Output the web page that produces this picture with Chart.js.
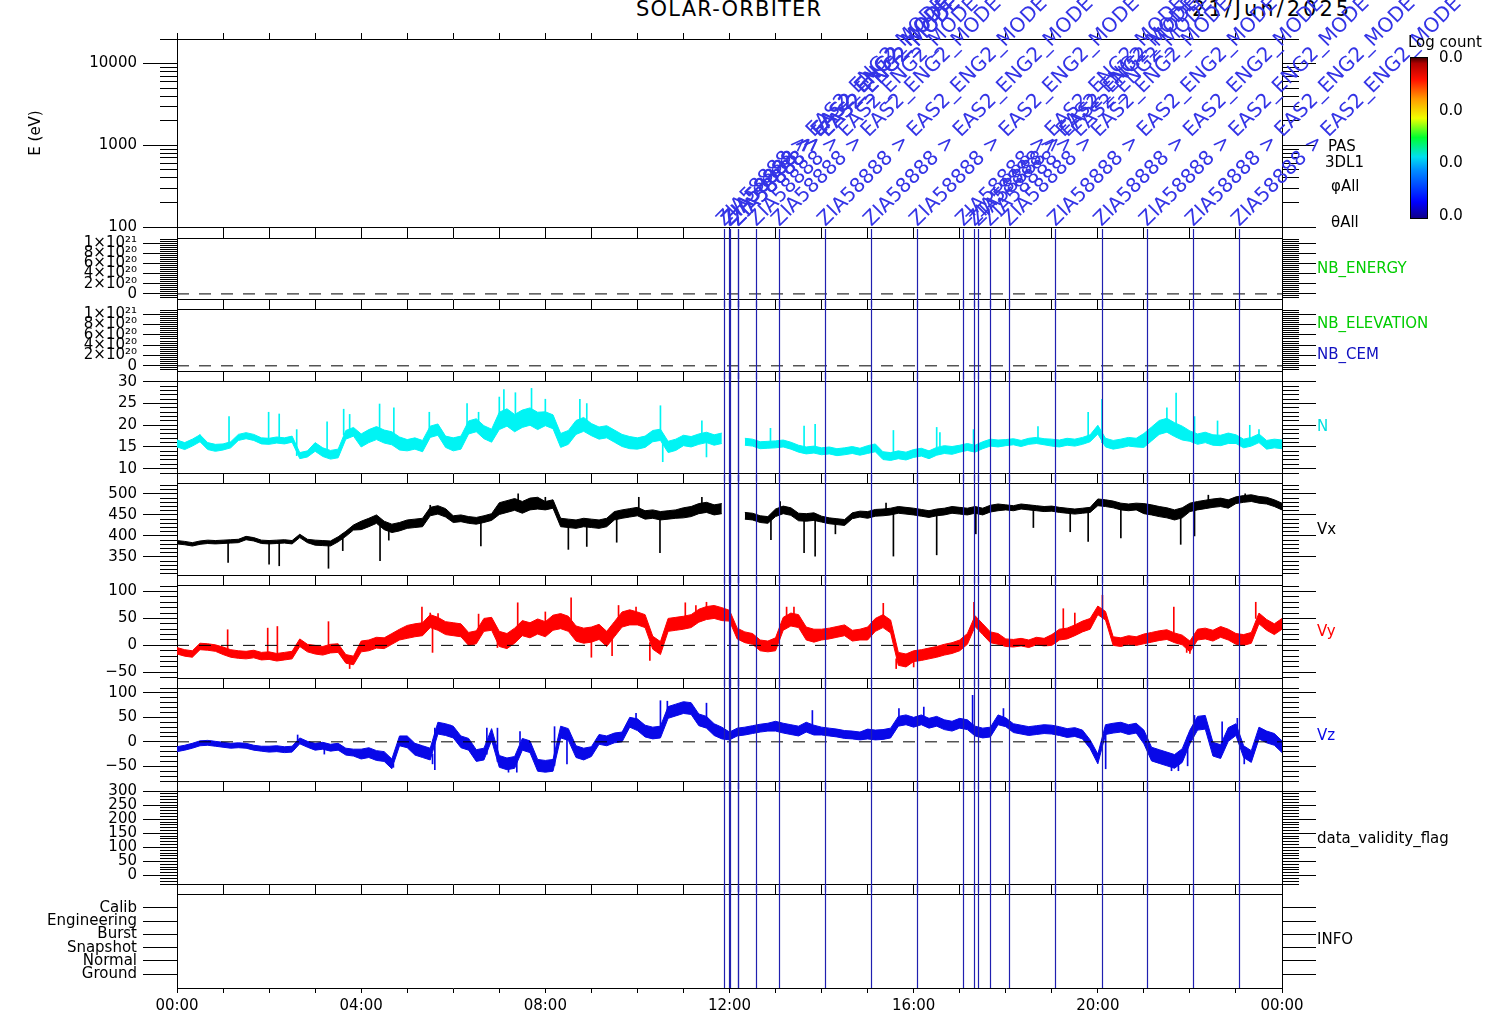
<!DOCTYPE html>
<html>
<head>
<meta charset="utf-8">
<script src="https://cdn.jsdelivr.net/npm/chart.js@4/dist/chart.umd.min.js"></script>
<style>
  body { margin: 0; background: #fff; }
  #page { position: relative; width: 1512px; height: 1020px; overflow: hidden; background: #fff; font-family: 'DejaVu Sans', sans-serif; }
  #page canvas { position: absolute; left: 0; }
  .ttl { position: absolute; top: -1px; font-size: 21px; line-height: 21px; color: #000; white-space: nowrap; }
</style>
</head>
<body>
<div id="page">
  <div class="ttl" style="left:636px; letter-spacing:1.2px">SOLAR-ORBITER</div>
  <div class="ttl" style="left:1192px; letter-spacing:3px">21/Jun/2025</div>
</div>
<script>
// ---- data (10 min samples, 00:00 .. 24:00) ----
const nVals = [
  15.8, 15.2, 16.0, 17.0, 15.2, 14.8,
  15.0, 15.5, 17.2, 17.6, 17.2, 16.4,
  16.3, 16.6, 16.4, 16.8, 13.0, 13.4,
  15.0, 13.8, 13.2, 13.5, 17.8, 18.5,
  16.5, 17.5, 18.2, 17.4, 17.0, 15.8,
  15.4, 15.8, 15.2, 18.5, 19.0, 16.2,
  15.6, 16.0, 19.5, 20.0, 18.4, 17.6,
  21.0, 21.8, 20.5, 21.5, 22.0, 21.0,
  21.5, 20.8, 16.5, 17.2, 19.5, 20.2,
  19.0, 18.2, 18.5, 17.5, 16.5, 16.0,
  15.8, 16.2, 17.5, 17.8, 15.0, 15.5,
  16.5, 16.2, 16.8, 17.2, 16.6, 17.0,
  null, null, 16.2, 16.0, 15.4, 15.5,
  15.6, 15.8, 15.3, 14.6, 14.2, 14.4,
  14.0, 14.2, 13.8, 14.0, 14.3, 13.9,
  14.4, 14.8, 13.0, 12.8, 13.2, 12.9,
  13.5, 13.8, 13.2, 14.0, 14.4, 14.2,
  14.6, 15.0, 14.6, 15.4, 16.0, 15.8,
  16.0, 16.2, 15.8, 16.3, 16.5, 16.2,
  16.0, 15.8, 16.2, 16.0, 16.4, 17.0,
  19.0, 16.0, 15.5, 15.8, 16.2, 16.0,
  16.5, 18.0, 19.5, 20.0, 19.0, 18.2,
  17.5, 16.8, 17.2, 16.6, 16.5, 17.0,
  16.8, 15.8, 16.2, 17.0, 15.5, 15.8,
  15.6
];
const vxVals = [
  385, 383, 380, 384, 386, 385,
  386, 387, 388, 395, 392, 386,
  385, 386, 387, 385, 400, 388,
  384, 383, 382, 392, 405, 420,
  425, 432, 440, 425, 418, 422,
  428, 430, 432, 458, 462, 455,
  440, 442, 438, 436, 440, 445,
  465, 470, 475, 468, 476, 478,
  472, 476, 432, 430, 428, 432,
  430, 428, 432, 448, 452, 455,
  458, 450, 452, 448, 450, 452,
  455, 458, 465, 468, 462, 465,
  null, null, 448, 446, 440, 438,
  455, 462, 458, 445, 444, 446,
  440, 436, 434, 432, 448, 452,
  450, 455, 456, 458, 462, 460,
  458, 455, 452, 456, 458, 462,
  460, 458, 462, 458, 465, 468,
  468, 466, 470, 468, 466, 464,
  465, 462, 460, 458, 460, 462,
  480, 478, 475, 470, 468, 470,
  465, 462, 458, 455, 450, 455,
  468, 472, 475, 478, 480, 476,
  485, 488, 490, 486, 484, 478,
  470
];
const vyVals = [
  -10, -14, -16, -2, -3, -5,
  -10, -15, -17, -18, -16, -20,
  -19, -22, -20, -18, 5, -5,
  -8, -10, -6, -5, -25, -28,
  -2, 0, 5, 4, 12, 20,
  25, 28, 30, 45, 40, 32,
  30, 28, 12, 15, 38, 40,
  12, 8, 18, 32, 28, 35,
  30, 42, 45, 40, 22, 18,
  20, 25, 12, 30, 48, 52,
  50, 45, 5, -5, 38, 40,
  42, 45, 55, 60, 62, 58,
  55, 22, 15, 12, 0, -2,
  2, 40, 48, 45, 22, 18,
  20, 22, 25, 28, 18, 20,
  22, 38, 45, 35, -25, -28,
  -20, -18, -15, -12, -8, -5,
  0, 12, 45, 30, 15, 12,
  5, 4, 6, 3, 8, 6,
  10, 20, 22, 28, 35, 40,
  65, 55, 8, 6, 10, 8,
  12, 15, 18, 20, 14, 10,
  -2, 20, 22, 18, 25, 20,
  12, 10, 14, 50, 38, 30,
  40
];
const vzVals = [
  -15, -12, -8, -3, -2, -4,
  -6, -8, -7, -8, -12, -14,
  -15, -14, -16, -15, 2, -5,
  -10, -8, -12, -10, -20, -22,
  -25, -22, -28, -30, -45, 2,
  0, -15, -20, -25, 28, 25,
  20, 0, -5, -28, -25, 15,
  -40, -45, -42, -5, -10, -48,
  -50, -48, 20, 15, -20, -25,
  -20, 5, 2, 8, 10, 40,
  35, 22, 18, 20, 60, 65,
  70, 68, 45, 40, 25, 18,
  12, 20, 22, 25, 28, 30,
  32, 28, 25, 22, 30, 24,
  22, 20, 18, 15, 14, 12,
  16, 14, 15, 18, 42, 45,
  40, 45, 38, 42, 35, 32,
  38, 35, 22, 18, 20, 45,
  40, 28, 25, 22, 24, 26,
  25, 22, 18, 20, 15, -5,
  -35, 25, 28, 30, 25, 28,
  10, -25, -30, -35, -40, -28,
  10, 38, 40, -15, -20, 15,
  25, -20, -30, 18, 10, 5,
  -10
];

// hourly half-width of the noisy band around each trace
const nSpread  = [0.8, 0.7, 0.7, 1.0, 1.5, 1.3, 1.5, 2.0, 1.6, 1.4, 1.3, 1.2, 0.8, 0.8, 0.8, 0.9, 0.9, 0.8, 0.7, 0.8, 1.0, 1.6, 1.2, 1.0];
const vxSpread = [4, 4, 4, 6, 10, 10, 8, 14, 10, 10, 10, 12, 8, 9, 7, 8, 8, 8, 6, 6, 8, 12, 10, 8];
const vySpread = [6, 7, 7, 8, 10, 12, 12, 14, 14, 14, 12, 12, 10, 12, 10, 12, 10, 10, 7, 10, 8, 9, 10, 10];
const vzSpread = [5, 5, 6, 7, 10, 12, 12, 12, 12, 10, 12, 12, 8, 10, 8, 10, 10, 10, 9, 9, 10, 14, 14, 12];

// single spikes [hour, value]
const nSpikes = [[0.5,17.8],[1.13,22.0],[1.99,23.0],[2.22,22.6],[2.6,19.0],[3.26,20.8],[3.62,23.7],[3.75,22.5],
  [4.4,24.9],[4.71,24.0],[5.48,23.0],[6.3,25.0],[6.55,23.0],[7.0,26.5],[7.1,28.2],[7.35,27.5],[7.7,28.5],[8.0,26.0],
  [8.75,26.0],[8.9,25.0],[10.5,24.5],[10.55,11.6],[11.4,21.0],[11.5,12.7],[12.89,19.3],[13.62,19.8],[13.86,20.2],
  [15.56,18.8],[16.5,19.5],[16.57,18.3],[17.3,19.0],[18.7,19.7],[19.79,23.0],[20.09,26.0],[21.5,24.0],[21.7,27.4],
  [22.1,22.0],[22.6,21.0],[23.3,20.0],[23.5,19.0]];
const vxSpikes = [[1.11,337],[2.0,333],[2.22,329],[3.29,323],[3.6,365],[4.41,341],[4.6,390],[5.5,473],[6.6,376],
  [7.41,500],[8.0,492],[8.5,368],[8.9,375],[9.55,385],[10.03,492],[10.49,360],[11.4,492],[12.9,391],[13.1,482],
  [13.62,360],[13.86,352],[14.3,405],[15.4,478],[15.56,352],[16.5,355],[17.35,405],[18.6,420],[19.4,410],
  [19.79,387],[20.5,395],[21.8,380],[22.1,400],[22.4,497],[23.2,500]];
const vySpikes = [[1.1,29],[1.97,32],[2.18,35],[3.29,44],[3.75,-43],[5.32,71],[5.5,60],[5.55,-13],[5.67,59],[6.55,58],
  [6.96,-4],[7.4,79],[8.0,62],[8.56,88],[9.0,-22],[9.45,-19],[9.59,74],[9.97,71],[10.27,-28],[11.04,79],[11.27,74],
  [11.5,80],[13.24,71],[13.4,71],[15.34,78],[15.62,-43],[16.0,-40],[16.12,-28],[17.31,80],[19.25,68],[19.5,60],
  [20.1,93],[21.65,71],[21.93,-13],[22.0,-15],[23.43,80]];
const vzSpikes = [[2.62,14],[3.2,-25],[4.7,-52],[5.55,-45],[5.6,-57],[5.75,34],[5.93,34],[6.73,28],[6.96,28],
  [7.2,-62],[7.38,-62],[7.45,21],[7.9,-55],[8.2,31],[8.47,-45],[9.97,58],[10.5,84],[10.65,83],[11.5,79],
  [13.8,64],[15.68,68],[16.22,71],[17.28,95],[17.95,68],[20.17,-55],[21.6,-59],[21.75,-59],[21.95,-49],
  [22.1,54],[22.7,41],[23.03,48],[23.18,-45]];

// mode change markers
const eventHours = [11.887, 11.996, 12.017, 12.178, 12.19, 12.582, 13.08, 14.08, 15.08, 16.08,
  17.08, 17.32, 17.40, 17.66, 18.08, 19.08, 20.08, 21.07, 22.07, 23.07];
const eventLabels = eventHours.map(() => 'ZIA58888 > EAS2_ENG2_MODE');

// axis ticks
const eMajor = [100, 1000, 10000];
const eMinor = [200, 300, 400, 500, 600, 700, 800, 900, 2000, 3000, 4000, 5000, 6000, 7000, 8000, 9000, 20000];
const nbMajor = [0, 2e20, 4e20, 6e20, 8e20, 1e21];
const nbLabels = ['0', '2×10²⁰', '4×10²⁰', '6×10²⁰', '8×10²⁰', '1×10²¹'];
const nMajor = [10, 15, 20, 25, 30];
const vxMajor = [350, 400, 450, 500];
const vyMajor = [-50, 0, 50, 100];
const vzMajor = [-50, 0, 50, 100];
const flagMajor = [0, 50, 100, 150, 200, 250, 300];
const infoModes = ['Ground', 'Normal', 'Snapshot', 'Burst', 'Engineering', 'Calib'];

// ---- helpers ----
Chart.defaults.font.family = "'DejaVu Sans', sans-serif";
Chart.defaults.font.size = 15;
Chart.defaults.color = '#000';

const W = 1512, LEFT = 177, RIGHT = 230;
const FONT = "15px 'DejaVu Sans', sans-serif";

function steps(a, b, st) {
  const out = [];
  for (let i = 0; a + i * st <= b + st * 1e-6; i++) out.push(+(a + i * st).toPrecision(10));
  return out;
}
const num = v => v < 0 ? '\u2212' + Math.abs(v) : String(v);
const hhmm = v => v % 4 === 0 ? String(v % 24).padStart(2, '0') + ':00' : '';

function pts(vals) { return vals.map((v, i) => ({ x: i / 6, y: v })); }
function spikeBars(sp, vals) {
  return sp.filter(s => vals[Math.round(s[0] * 6)] != null)
    .map(([h, v]) => ({ x: h, y: [vals[Math.round(h * 6)], v] }));
}
function shifted(vals, spread, sign) {
  return vals.map((v, i) => v == null ? null : v + sign * spread[Math.min(23, Math.floor(i / 6))]);
}
function series(vals, spread, sp, color) {
  const line = { type: 'line', borderColor: color, backgroundColor: color, borderWidth: 1, pointRadius: 0, tension: 0, spanGaps: false };
  return [
    { ...line, data: pts(shifted(vals, spread, 1)), fill: false },
    { ...line, data: pts(shifted(vals, spread, -1)), fill: '-1' },
    { type: 'bar', data: spikeBars(sp, vals), backgroundColor: color, borderWidth: 0, barThickness: 1, grouped: false }
  ];
}
const zeroLine = { type: 'line', data: [{ x: 0, y: 0 }, { x: 24, y: 0 }], borderColor: '#000', borderWidth: 1, borderDash: [12, 10], pointRadius: 0 };

function yAxes(p) {
  const base = { type: p.type || 'linear', min: p.min, max: p.max };
  const put = vals => s => { s.ticks = vals.map(v => ({ value: v })); };
  const fix = w => s => { s.width = w; };
  const grid = tl => ({ drawOnChartArea: false, drawTicks: true, tickLength: tl, color: '#000', lineWidth: 1 });
  return {
    yMinL: { ...base, position: 'left', weight: 0, afterBuildTicks: put(p.minor), afterFit: fix(0),
      ticks: { display: false }, grid: grid(17), border: { display: false } },
    y: { ...base, position: 'left', weight: 1, afterBuildTicks: put(p.major), afterFit: fix(LEFT),
      ticks: { autoSkip: false, padding: 6, color: '#000', callback: p.fmt },
      grid: grid(34), border: { display: true, color: '#000', width: 1 },
      title: p.title ? { display: true, text: p.title, padding: { top: 27 }, color: '#000' } : { display: false } },
    yMinR: { ...base, position: 'right', weight: 0, afterBuildTicks: put(p.minor), afterFit: fix(0),
      ticks: { display: false }, grid: grid(17), border: { display: false } },
    yR: { ...base, position: 'right', weight: 1, afterBuildTicks: put(p.major), afterFit: fix(RIGHT),
      ticks: { display: false }, grid: grid(34), border: { display: true, color: '#000', width: 1 } }
  };
}
function xAxes(labelH, topLen) {
  return {
    x: { type: 'linear', min: 0, max: 24, position: 'bottom', offset: false, afterFit: s => { s.height = labelH; },
      ticks: { stepSize: 1, autoSkip: false, maxRotation: 0, display: labelH > 0, padding: 4, callback: hhmm },
      grid: { drawOnChartArea: false, offset: false, tickLength: labelH > 0 ? 5 : 7, color: '#000' },
      border: { display: true, color: '#000', width: 1 } },
    xt: { type: 'linear', min: 0, max: 24, position: 'top', offset: false, afterFit: s => { s.height = 0; },
      ticks: { stepSize: 1, display: false },
      grid: { drawOnChartArea: false, offset: false, tickLength: topLen, color: '#000' },
      border: { display: true, color: '#000', width: 1 } }
  };
}

// ---- plugins ----
const eventLines = {
  id: 'eventLines',
  afterDatasetsDraw(chart, args, o) {
    if (!o || !o.on) return;
    const { ctx, chartArea } = chart, xs = chart.scales.x;
    ctx.save();
    ctx.strokeStyle = '#2020b0';
    ctx.lineWidth = 1.2;
    eventHours.forEach(h => {
      const x = Math.round(xs.getPixelForValue(h)) + 0.5;
      ctx.beginPath();
      ctx.moveTo(x, chartArea.top - o.up);
      ctx.lineTo(x, chartArea.bottom + o.down);
      ctx.stroke();
    });
    ctx.restore();
  }
};
const eventText = {
  id: 'eventText',
  afterDraw(chart) {
    const { ctx, chartArea } = chart, xs = chart.scales.x;
    ctx.save();
    ctx.fillStyle = '#3434e6';
    ctx.font = "20px 'DejaVu Sans', sans-serif";
    ctx.textBaseline = 'alphabetic';
    eventHours.forEach((h, i) => {
      ctx.save();
      ctx.translate(xs.getPixelForValue(h), chartArea.bottom);
      ctx.rotate(-Math.PI / 4);
      ctx.fillText(eventLabels[i], 0, 0);
      ctx.restore();
    });
    ctx.restore();
  }
};
const sideLabels = {
  id: 'sideLabels',
  afterDraw(chart, args, o) {
    if (!o || !o.items) return;
    const { ctx, chartArea } = chart;
    ctx.save();
    ctx.font = FONT;
    ctx.textBaseline = 'middle';
    o.items.forEach(([t, c, dy, dx]) => {
      ctx.fillStyle = c;
      ctx.fillText(t, chartArea.right + (dx || 35), chartArea.top + dy);
    });
    ctx.restore();
  }
};
const colorBar = {
  id: 'colorBar',
  afterDraw(chart) {
    const ctx = chart.ctx;
    const x = 1410, y = 57, w = 17, h = 161;
    ctx.save();
    const g = ctx.createLinearGradient(0, y + h, 0, y);
    [[0, '#10008a'], [0.1, '#0000ff'], [0.3, '#0090ff'], [0.38, '#00e0f0'], [0.5, '#00ff30'],
     [0.62, '#f0ff00'], [0.74, '#ff9a00'], [0.86, '#ff1000'], [0.96, '#b00000'], [1, '#300000']]
      .forEach(([s, c]) => g.addColorStop(s, c));
    ctx.fillStyle = g;
    ctx.fillRect(x, y, w, h);
    ctx.strokeStyle = '#000';
    ctx.lineWidth = 1;
    ctx.strokeRect(x + 0.5, y + 0.5, w, h);
    ctx.fillStyle = '#000';
    ctx.font = FONT;
    ctx.textBaseline = 'middle';
    [58, 111, 163, 216].forEach(yy => ctx.fillText('0.0', 1439, yy));
    ctx.fillText('Log count', 1408, 43);
    ctx.restore();
  }
};

// ---- panels ----
const page = document.getElementById('page');
function panel(p) {
  const padTop = p.padTop != null ? p.padTop : 14;
  const labelH = p.labelH || 0;
  const padBot = labelH ? 0 : 14;
  const cv = document.createElement('canvas');
  cv.width = W;
  cv.height = p.bottom - p.top + padTop + padBot + labelH;
  cv.style.top = (p.top - padTop) + 'px';
  page.appendChild(cv);
  return new Chart(cv, {
    type: 'line',
    data: { datasets: p.datasets || [] },
    options: {
      responsive: false, animation: false, events: [],
      layout: { padding: { top: padTop, bottom: padBot, left: 0, right: 0 } },
      scales: { ...xAxes(labelH, p.topLen || 7), ...yAxes(p.y) },
      plugins: {
        legend: { display: false }, tooltip: { enabled: false },
        eventLines: p.lines || { on: false },
        sideLabels: { items: p.side }
      }
    },
    plugins: [eventLines, sideLabels].concat(p.extra || [])
  });
}

panel({ top: 39, bottom: 228, padTop: 39, topLen: 6, extra: [eventText, colorBar],
  y: { type: 'logarithmic', min: 100, max: 20000, major: eMajor, minor: eMinor, fmt: v => String(v), title: 'E (eV)' },
  side: [['PAS', '#000', 108, 46], ['3DL1', '#000', 124, 43], ['φAll', '#000', 148, 49], ['θAll', '#000', 184, 49]] });

panel({ top: 237, bottom: 300, datasets: [zeroLine], lines: { on: true, up: 9, down: 8 },
  y: { min: -1e20, max: 1.1e21, major: nbMajor, minor: steps(-8e19, 1.08e21, 4e19), fmt: v => nbLabels[nbMajor.indexOf(v)] },
  side: [['NB_ENERGY', '#00cc00', 31]] });

panel({ top: 308, bottom: 372, datasets: [zeroLine], lines: { on: true, up: 8, down: 8 },
  y: { min: -1e20, max: 1.1e21, major: nbMajor, minor: steps(-8e19, 1.08e21, 4e19), fmt: v => nbLabels[nbMajor.indexOf(v)] },
  side: [['NB_ELEVATION', '#00cc00', 15], ['NB_CEM', '#1010c0', 46]] });

panel({ top: 380, bottom: 474, datasets: series(nVals, nSpread, nSpikes, '#00f4f4'), lines: { on: true, up: 8, down: 8 },
  y: { min: 9, max: 30.2, major: nMajor, minor: steps(9, 30, 1), fmt: num },
  side: [['N', '#00e0e0', 46]] });

panel({ top: 482, bottom: 576, datasets: series(vxVals, vxSpread, vxSpikes, '#000000'), lines: { on: true, up: 8, down: 8 },
  y: { min: 307, max: 526, major: vxMajor, minor: steps(310, 520, 10), fmt: num },
  side: [['Vx', '#000', 47]] });

panel({ top: 584, bottom: 679, datasets: [zeroLine].concat(series(vyVals, vySpread, vySpikes, '#ff0000')), lines: { on: true, up: 8, down: 8 },
  y: { min: -60.5, max: 112, major: vyMajor, minor: steps(-60, 110, 10), fmt: num },
  side: [['Vy', '#ff0000', 47]] });

panel({ top: 687, bottom: 782, datasets: [zeroLine].concat(series(vzVals, vzSpread, vzSpikes, '#0808e8')), lines: { on: true, up: 8, down: 8 },
  y: { min: -80, max: 110, major: vzMajor, minor: steps(-80, 110, 10), fmt: num },
  side: [['Vz', '#0808e8', 48]] });

panel({ top: 790, bottom: 885, lines: { on: true, up: 8, down: 8 },
  y: { min: -30, max: 300, major: flagMajor, minor: steps(-30, 300, 10), fmt: num },
  side: [['data_validity_flag', '#000', 48]] });

panel({ top: 893, bottom: 988, labelH: 32, lines: { on: true, up: 8, down: 0 },
  y: { min: -1.05, max: 6.05, major: [0, 1, 2, 3, 4, 5], minor: [], fmt: v => infoModes[v] },
  side: [['INFO', '#000', 46]] });
</script>
</body>
</html>
